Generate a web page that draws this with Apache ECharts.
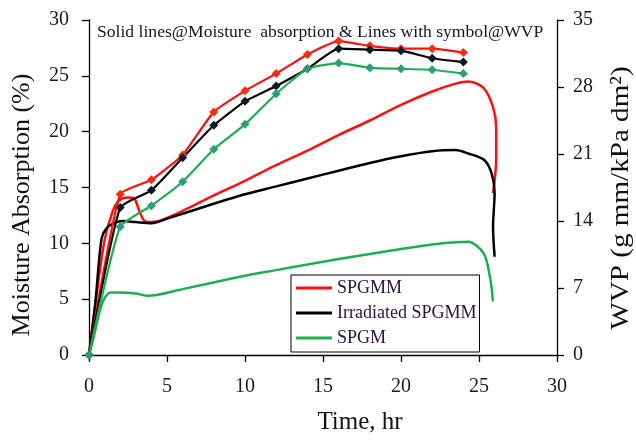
<!DOCTYPE html>
<html>
<head>
<meta charset="utf-8">
<script src="https://cdn.jsdelivr.net/npm/echarts@6/dist/echarts.min.js"></script>
<style>
  html, body { margin: 0; padding: 0; background: #fff; }
  #chart { width: 636px; height: 442px; }
</style>
</head>
<body>
<div id="chart"></div>
<script>
// Water vapour permeability (right axis), sampled every 2 h
const wvpTime = [0, 2, 4, 6, 8, 10, 12, 14, 16, 18, 20, 22, 24];
const wvpSPGMM = [0, 16.8, 18.3, 20.9, 25.4, 27.6, 29.4, 31.4, 32.8, 32.3, 32.0, 32.0, 31.6];
const wvpIrradiated = [0, 15.4, 17.2, 20.6, 24.0, 26.5, 28.1, 29.9, 32.0, 31.9, 31.8, 31.0, 30.6];
const wvpSPGM = [0, 13.4, 15.6, 18.1, 21.5, 24.1, 27.3, 29.9, 30.5, 30.0, 29.9, 29.8, 29.4];

// Moisture absorption curves (left axis)
const maTimeSPGMM = [0, 0.5, 1, 1.5, 1.9, 2.5, 2.9, 3.2, 3.5, 3.8, 4.5, 6, 8, 10, 12, 14, 16, 18, 20, 22, 23.5, 24.3, 25.3, 25.9, 26.1, 26.1, 25.9];
const maSPGMM = [0, 5.5, 10.3, 12.8, 13.8, 14.1, 14.0, 13.0, 12.1, 11.9, 12.0, 12.9, 14.3, 15.6, 17.0, 18.3, 19.7, 21.0, 22.4, 23.6, 24.3, 24.5, 23.9, 22.2, 20.4, 17.5, 14.5];

const maTimeIrradiated = [0, 0.4, 0.8, 1.1, 1.6, 2.2, 3, 4, 5.2, 7, 9.5, 12, 14, 16, 18, 20, 22, 23.5, 24.3, 25.3, 25.8, 26.0, 25.9, 26.0];
const maIrradiated = [0, 4.6, 10.4, 11.3, 11.8, 12.0, 11.9, 11.8, 12.3, 13.1, 14.2, 15.1, 15.8, 16.5, 17.2, 17.8, 18.25, 18.35, 18.05, 17.5, 16.3, 14.5, 11.5, 8.8];

const maTimeSPGM = [0, 0.3, 0.7, 1.0, 1.4, 2.0, 3, 3.8, 6, 8, 10, 12, 14, 16, 18, 20, 22, 23.5, 24.3, 25.3, 25.7, 25.9];
const maSPGM = [0, 1.6, 4.0, 5.1, 5.6, 5.6, 5.5, 5.3, 5.9, 6.5, 7.1, 7.6, 8.1, 8.6, 9.05, 9.5, 9.9, 10.1, 10.15, 9.1, 7.0, 4.8];

const seriesNames = ['SPGMM', 'Irradiated SPGMM', 'SPGM'];
const lineColors = ['#ff1010', '#000000', '#1fae4f'];
const markerColors = ['#ff2a10', '#0a1a2a', '#2a9e78'];

const timeTicks = [0, 5, 10, 15, 20, 25, 30];

const serif = '"Liberation Serif", "Times New Roman", serif';

function pairs(xs, ys) {
  return xs.map((x, i) => [x, ys[i]]);
}

const maSets = [
  pairs(maTimeSPGMM, maSPGMM),
  pairs(maTimeIrradiated, maIrradiated),
  pairs(maTimeSPGM, maSPGM)
];
const wvpSets = [
  pairs(wvpTime, wvpSPGMM),
  pairs(wvpTime, wvpIrradiated),
  pairs(wvpTime, wvpSPGM)
];

const series = [];
maSets.forEach((data, i) => {
  series.push({
    name: seriesNames[i],
    type: 'line',
    yAxisIndex: 0,
    data: data,
    smooth: 0.3,
    showSymbol: false,
    symbol: 'none',
    lineStyle: { color: lineColors[i], width: 2.5 },
    itemStyle: { color: lineColors[i] },
    z: 2
  });
});
wvpSets.forEach((data, i) => {
  series.push({
    name: seriesNames[i] + ' WVP',
    type: 'line',
    yAxisIndex: 1,
    data: data,
    smooth: 0.15,
    symbol: 'diamond',
    symbolSize: 9,
    lineStyle: { color: lineColors[i], width: 2.2 },
    itemStyle: { color: markerColors[i] },
    z: 3
  });
});

const chart = echarts.init(document.getElementById('chart'));
chart.setOption({
  backgroundColor: '#ffffff',
  animation: false,
  title: {
    text: 'Solid lines@Moisture  absorption & Lines with symbol@WVP',
    left: 92,
    top: 18,
    textStyle: { fontFamily: serif, fontSize: 17.6, fontWeight: 'normal', color: '#1a1030' }
  },
  grid: { left: 89, right: 79, top: 20, bottom: 87 },
  legend: {
    data: seriesNames,
    orient: 'vertical',
    left: 291,
    top: 275,
    icon: 'rect',
    itemWidth: 36,
    itemHeight: 3,
    itemGap: 7,
    padding: [4, 3, 5, 5],
    borderColor: '#000',
    borderWidth: 1,
    backgroundColor: '#fff',
    textStyle: { fontFamily: serif, fontSize: 18, color: '#2a1040', lineHeight: 17 }
  },
  xAxis: {
    type: 'value',
    min: 0,
    max: 30,
    interval: 5,
    axisLine: { show: true, onZero: false, lineStyle: { color: '#000', width: 1.3 } },
    axisTick: { show: true, inside: false, length: 7, lineStyle: { color: '#000', width: 1.3 } },
    axisLabel: {
      margin: 22,
      fontFamily: serif,
      fontSize: 20,
      color: '#1a1a1a',
      formatter: v => (timeTicks.indexOf(v) >= 0 ? String(v) : '')
    },
    splitLine: { show: false }
  },
  yAxis: [
    {
      type: 'value',
      position: 'left',
      min: 0,
      max: 30,
      interval: 5,
      axisLine: { show: true, lineStyle: { color: '#000', width: 1.3 } },
      axisTick: { show: true, inside: false, length: 7, lineStyle: { color: '#000', width: 1.3 } },
      axisLabel: { margin: 20, fontFamily: serif, fontSize: 20, color: '#1a1a1a' },
      splitLine: { show: false }
    },
    {
      type: 'value',
      position: 'right',
      min: 0,
      max: 35,
      interval: 7,
      axisLine: { show: true, lineStyle: { color: '#000', width: 1.3 } },
      axisTick: { show: true, inside: false, length: 7, lineStyle: { color: '#000', width: 1.3 } },
      axisLabel: { margin: 16, fontFamily: serif, fontSize: 20, color: '#1a1a1a' },
      splitLine: { show: false }
    }
  ],
  graphic: [
    {
      type: 'text',
      x: 22,
      y: 205,
      rotation: Math.PI / 2,
      style: {
        text: 'Moisture Absorption (%)',
        font: '26px ' + serif,
        fill: '#111',
        align: 'center',
        verticalAlign: 'middle'
      }
    },
    {
      type: 'text',
      x: 621,
      y: 198,
      rotation: Math.PI / 2,
      scaleX: 1.12,
      style: {
        text: 'WVP (g mm/kPa dm\u00B2)',
        font: '26px ' + serif,
        fill: '#111',
        align: 'center',
        verticalAlign: 'middle'
      }
    },
    {
      type: 'text',
      x: 360,
      y: 422,
      style: {
        text: 'Time, hr',
        font: '25px ' + serif,
        fill: '#111',
        align: 'center',
        verticalAlign: 'middle'
      }
    }
  ],
  series: series
});
</script>
</body>
</html>
